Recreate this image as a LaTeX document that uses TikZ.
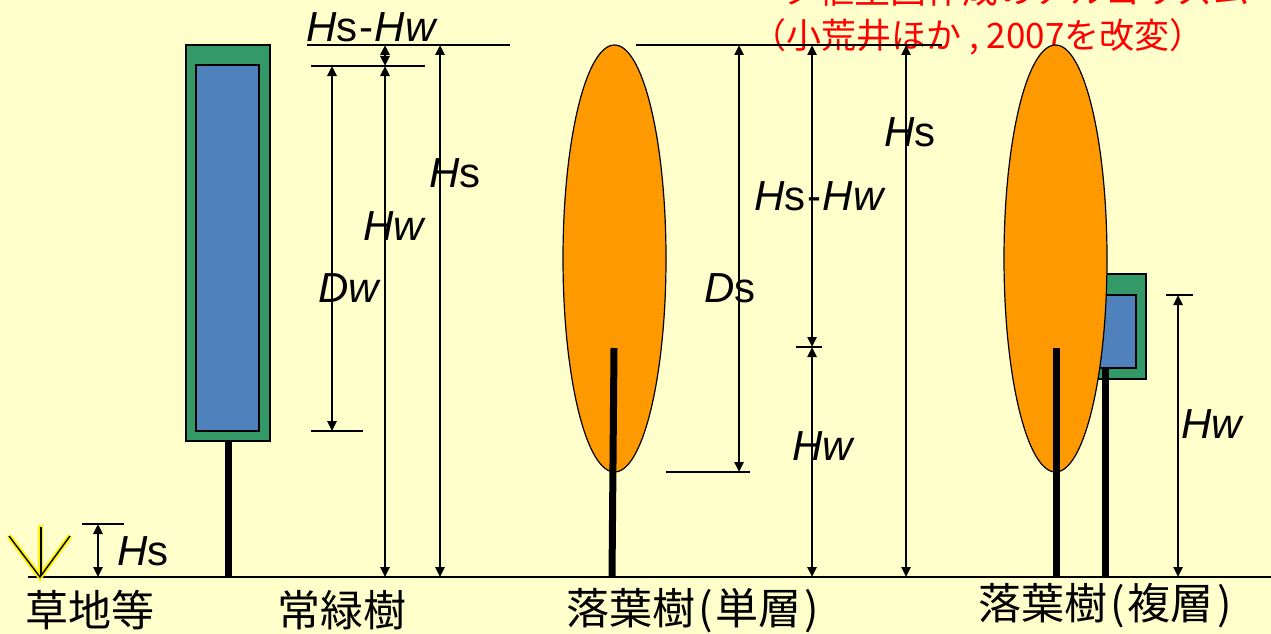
\documentclass[tikz,border=0pt]{standalone}
\usepackage{fontspec}
\setmainfont{Liberation Sans}
\newfontfamily\jp{Noto Sans CJK JP}
\usetikzlibrary{arrows.meta}
\definecolor{paper}{HTML}{FFFFCC}
\definecolor{leafgreen}{HTML}{339966}
\definecolor{leafblue}{HTML}{4F81BD}
\definecolor{leaforange}{HTML}{FF9900}
\newcommand{\hshw}{\textit{H}s\hspace{2pt}-\hspace{1pt}\textit{Hw}}
\begin{document}
\begin{tikzpicture}[x=1pt,y=-1pt,
  dim/.style={line width=2.4pt,{Triangle[length=10pt,width=9pt]}-{Triangle[length=10pt,width=9pt]}},
  tickline/.style={line width=2.4pt},
  trunk/.style={line width=7pt},
  crown/.style={fill=leaforange,draw=black,line width=1.2pt},
  outerbox/.style={fill=leafgreen,draw=black,line width=1.6pt},
  innerbox/.style={fill=leafblue,draw=black,line width=1.6pt},
  sym/.style={font=\fontsize{42}{42}\selectfont,inner sep=0pt},
  jlabel/.style={font=\jp\fontsize{43}{43}\selectfont,inner sep=0pt},
  note/.style={text=red,inner sep=0pt}]
\fill[paper] (0,0) rectangle (1271,634);
\useasboundingbox (0,0) rectangle (1271,634);
\clip (0,0) rectangle (1271,634);

% caption
\node[note,anchor=east,font=\jp\fontsize{36}{36}\selectfont] (cap1) at (1250,-10) {ータ植生図作成のアルゴリズム};
\node[note,font=\jp\fontsize{35}{35}\selectfont] (cap2) at (978,37) {（小荒井ほか , 2007を改変）};

% ground
\coordinate (g0) at (28,577);
\coordinate (g1) at (1271,577);
\draw[tickline] (g0) -- (g1);

% grass symbol
\coordinate (gv) at (40,577);
\coordinate (gl) at (9,536);
\coordinate (gr) at (70,536);
\coordinate (gt) at (40,525);
\draw[yellow,line width=5pt] (gl) -- (gv) -- (gr);
\draw[yellow,line width=5pt] (gt) -- (gv);
\draw[black,line width=1.4pt] (gl) -- (gv) -- (gr);
\draw[black,line width=1.2pt] (41,527) -- (41,575);
\draw[tickline] (82,524) -- (124,524);
\draw[dim] (98,524) -- (98,577);
\node[sym] (hsg) at (143,551) {\textit{H}s};
\node[jlabel] (grass) at (90,610) {草地等};

% evergreen tree
\draw[outerbox] (186,45) rectangle (270,441);
\draw[innerbox] (196,65) rectangle (259,431);
\draw[trunk] (228,441) -- (228,577);
\node[jlabel] (ever) at (342,610) {常緑樹};

\draw[tickline] (307,45) -- (510,45);
\draw[tickline] (311,66) -- (425,66);
\draw[tickline] (311,431) -- (363,431);
\draw[dim] (332,66) -- (332,431);
\draw[dim] (385,45) -- (385,66);
\draw[dim] (385,66) -- (385,577);
\draw[dim] (440,45) -- (440,577);
\node[sym] (hse) at (372,27) {\hshw};
\node[sym] (hsall) at (455,173) {\textit{H}s};
\node[sym] (hwe) at (395,226) {\textit{Hw}};
\node[sym] (dwe) at (350,288) {\textit{Dw}};

% deciduous tree, single layer
\draw[crown] (614.5,258.5) ellipse [x radius=51.5,y radius=213.5];
\draw[trunk] (614,348) -- (612,577);
\node[jlabel] (single) at (693,611) {落葉樹\hspace{3pt}(\hspace{3pt}単層\hspace{3pt})};

\draw[tickline] (636,45) -- (942,45);
\draw[tickline] (666,472) -- (750,472);
\draw[tickline] (796,347) -- (822,347);
\draw[dim] (739,45) -- (739,472);
\draw[dim] (812,45) -- (812,347);
\draw[dim] (812,347) -- (812,577);
\draw[dim] (906,45) -- (906,577);
\node[sym] (dss) at (730,288) {\textit{D}s};
\node[sym] (hss) at (820,196) {\hshw};
\node[sym] (hws) at (824,446) {\textit{Hw}};
\node[sym] (hsd) at (910,132) {\textit{H}s};

% deciduous tree, two layers
\draw[outerbox] (1088,274) rectangle (1146,379);
\draw[innerbox] (1094,295) rectangle (1136,368);
\draw[trunk] (1105,368) -- (1105,577);
\draw[crown] (1055.5,258.5) ellipse [x radius=51.5,y radius=213.5];
\draw[trunk] (1056,348) -- (1056,577);
\node[jlabel] (multi) at (1105,606) {落葉樹\hspace{3pt}(\hspace{3pt}複層\hspace{3pt})};

\draw[tickline] (1166,295) -- (1193,295);
\draw[dim] (1178,295) -- (1178,577);
\node[sym] (hwm) at (1213,424) {\textit{Hw}};
\end{tikzpicture}
\end{document}
